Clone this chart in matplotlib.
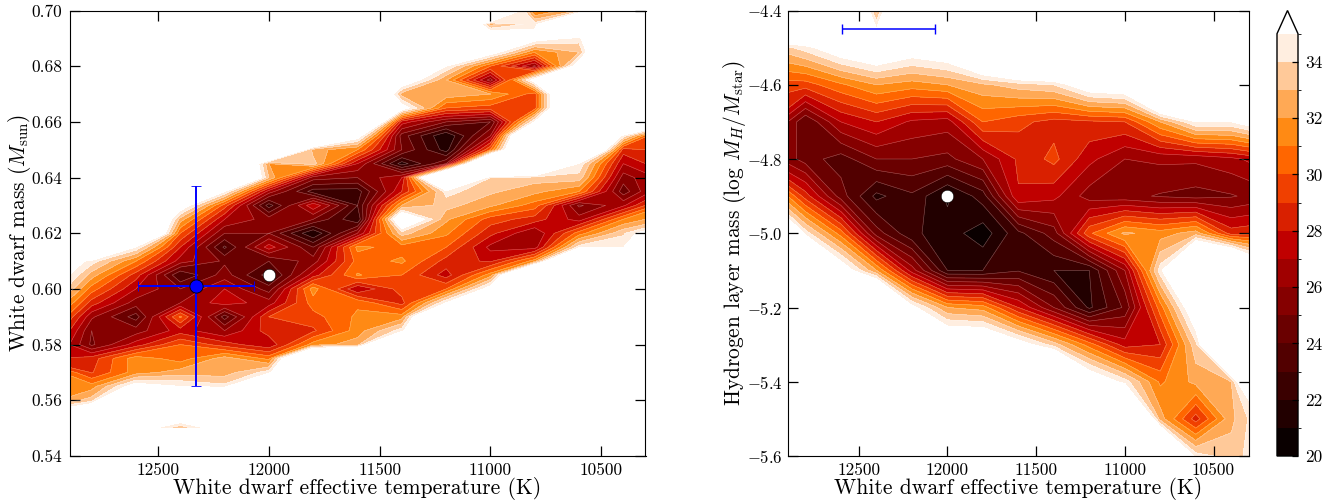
import numpy as np
import matplotlib
matplotlib.use('Agg')
import matplotlib.pyplot as plt
from matplotlib.colors import ListedColormap, BoundaryNorm

plt.rcParams['font.family'] = ['cmr10', 'DejaVu Serif']
plt.rcParams['mathtext.fontset'] = 'cm'
plt.rcParams['axes.unicode_minus'] = False
plt.rcParams['axes.formatter.use_mathtext'] = True

# chi2 values above the last level show as white
W = 45.0

temps = [13000, 12800, 12600, 12400, 12200, 12000, 11800, 11600, 11400,
         11200, 11000, 10800, 10600, 10400, 10200]

# mass grid: for each temperature, (first mass, values going up in mass)
mass_rows = np.arange(0.54, 0.7001, 0.005)
mass_cols = [
    [(0.555, [36, 31.5, 31.5, 32, 28, 29.2, 31, 32.8, 34.5, 36.5, 37.5, 37.5])],
    [(0.555, [40, 33.5, 31.5, 28.9, 28.5, 24.8, 25, 26.2, 28.5, 30.5, 32.5, 34.5])],
    [(0.545, [100, 36.5]),
     (0.565, [36, 31.5, 31.6, 27.5, 25.5, 23.5, 25.5, 27, 28.5, 31, 34.8])],
    [(0.545, [100, 33, 38]),
     (0.565, [35, 32.5, 30.5, 30, 27.5, 30.2, 26, 25, 23, 26.5, 28, 30, 32.5, 36.5])],
    [(0.545, [100, 36.5]),
     (0.565, [34.3, 32.5, 32.5, 28.5, 26, 23.5, 27.5, 27, 25.5, 24.8, 22.8, 25, 27, 29.5, 35])],
    [(0.57, [34.5, 30.7, 27.2, 28.5, 29, 26.5, 24.5, 22.5, 24, 27.5, 25, 25.5, 22.5, 26.5, 33, 32])],
    [(0.58, [31.5, 28.8, 29.6, 30.5, 31.5, 27.5, 25.5, 24, 21, 25, 27.8, 22.5, 25.5, 33.5, 32.5])],
    [(0.58, [32.5, 31.5, 31.2, 30.8, 27, 31.1, 30.4, 31.3, 26, 22, 23, 22.5, 25, 27, 31, 36])],
    [(0.585, [34.5, 31.5, 28.6, 29.5, 30, 31.2, 30.5, 33.5, 38, 32, 28, 27, 21.5, 25, 24.5, 27.5, 36, 32.5, 37])],
    [(0.595, [35, 30, 27.5, 28.6, 30, 31.2, 32.2, 33.4, 34.4, 45, 25, 21.5, 21, 25, 30, 32.7, 32, 35])],
    [(0.60, [36, 31.5, 27.8, 26.7, 28.3, 29.5, 32.2, 33.2, 34, 45, 30, 26, 24, 29.5, 32, 25.5, 30, 36, 38, 32.5])],
    [(0.605, [45, 31.5, 26.5, 26, 28.5, 30.5, 32.3, 33.5, 45, 45, 45, 35, 29.5, 29.5, 36, 25.8, 31, 36, 34.5, 30.5])],
    [(0.61, [45, 34.5, 30.5, 26.5, 24.8, 31, 33.6, 34.8]), (0.68, [36.5, 33, 34.5, 45, 33])],
    [(0.615, [34.9, 33.8, 31, 26.8, 24.4, 25.5, 27, 28.5, 34.5]), (0.70, [34.5])],
    [(0.62, [38, 33, 31.2, 28.5, 27.5, 29, 29.5, 26.5, 37])],
]

# hydrogen grid: one list per temperature, log mass from -5.6 up to -4.4
hydrogen_rows = [-5.6, -5.5, -5.4, -5.3, -5.2, -5.1, -5.0, -4.9, -4.8, -4.7, -4.6, -4.5, -4.4]
hydrogen_cols = [
    [W, W, W, W, W, W, W, 33.5, 26.5, 28, 29.5, 33.1, W],
    [W, W, W, W, W, W, 34.5, 28.5, 24.5, 24, 29.5, 34.5, W],
    [W, W, W, W, W, 36.5, 30.5, 24.5, 23.5, 27, 30.8, 36.5, W],
    [W, W, W, W, W, 32, 24.5, 21.7, 25, 28, 32, 37.7, 32.5],
    [W, W, W, W, 35.5, 26.5, 22.2, 22.8, 25, 26.8, 31.5, 36.3, W],
    [W, W, W, 38, 32, 22, 21.5, 20.8, 24.7, 26.5, 32, 37, W],
    [W, W, W, 38, 31.5, 22, 20.4, 22.5, 26, 30, 32.8, 41, W],
    [W, W, W, 36, 28, 22.9, 22.7, 27.9, 28.2, 29.3, 33.5, W, W],
    [W, W, W, 33.5, 25, 22, 24.5, 27.3, 29.3, 28.6, 34, W, W],
    [W, W, 37, 30.5, 21.8, 22, 29.8, 25.5, 27.3, 28.8, 36.5, W, W],
    [W, W, 34.5, 27.5, 24.2, 26, 32.2, 25.3, 26, 29, 37, W, W],
    [W, 32.5, 30.8, 28, 30.5, 34.5, 31.5, 24.9, 26.2, 32, W, W, W],
    [34.5, 28.5, 32.3, 33.7, 37, W, 32.5, 24.6, 26.2, 35, W, W, W],
    [33.5, 32.7, 33, W, W, W, 28.5, 24.9, 26.7, 35, W, W, W],
    [35, 35.5, W, W, W, 37, 28.9, 25.5, 27.7, 37, W, W, W],
]

levels = list(range(20, 36))
band_colors = ['#0a0000', '#220000', '#3a0000', '#520000', '#6a0000', '#850000',
               '#a00000', '#c00000', '#d92000', '#f04000', '#ff6600', '#ff8a14',
               '#ffa955', '#ffc999', '#ffeee0']

temp_ticks = [12500, 12000, 11500, 11000, 10500]
mass_ticks = [0.54, 0.56, 0.58, 0.60, 0.62, 0.64, 0.66, 0.68, 0.70]
mass_labels = ['0.54', '0.56', '0.58', '0.60', '0.62', '0.64', '0.66', '0.68', '0.70']
hydrogen_ticks = [-5.6, -5.4, -5.2, -5.0, -4.8, -4.6, -4.4]
hydrogen_labels = ['$-5.6$', '$-5.4$', '$-5.2$', '$-5.0$', '$-4.8$', '$-4.6$', '$-4.4$']
cbar_ticks = [20, 22, 24, 26, 28, 30, 32, 34]

# best fit and the literature point with its errors
fit_temp, fit_mass, fit_h = 12000, 0.605, -4.9
lit_temp, lit_temp_err = 12330, 262
lit_mass, lit_mass_err = 0.601, 0.036
lit_h_y = -4.451


def fill_column(segments, rows):
    col = np.full(len(rows), W)
    step = rows[1] - rows[0]
    for start, vals in segments:
        i = int(round((start - rows[0]) / step))
        col[i:i + len(vals)] = vals
    return col


mass_z = np.array([fill_column(s, mass_rows) for s in mass_cols]).T
hydrogen_z = np.array(hydrogen_cols).T

cmap = ListedColormap(band_colors)
cmap.set_over('white')
norm = BoundaryNorm(levels, cmap.N)

W_PX, H_PX = 1333, 501
fig = plt.figure(figsize=(W_PX / 100, H_PX / 100), dpi=100)


def px_axes(x0, x1, top, bottom):
    return fig.add_axes([x0 / W_PX, 1 - bottom / H_PX, (x1 - x0) / W_PX, (bottom - top) / H_PX])


ax1 = px_axes(69.5, 645.5, 10.5, 456)
ax2 = px_axes(787.7, 1249, 10.5, 456)
cax = px_axes(1277, 1298, 10.5, 456)

cf = ax1.contourf(temps, mass_rows, mass_z, levels=levels, cmap=cmap, norm=norm, extend='max')
ax1.contour(temps, mass_rows, mass_z, levels=levels[:-1], colors='w', linewidths=0.4, alpha=0.35)
ax2.contourf(temps, hydrogen_rows, hydrogen_z, levels=levels, cmap=cmap, norm=norm, extend='max')
ax2.contour(temps, hydrogen_rows, hydrogen_z, levels=levels[:-1], colors='w', linewidths=0.4, alpha=0.35)

ax1.errorbar(lit_temp, lit_mass, xerr=lit_temp_err, yerr=lit_mass_err, color='#0000ff', lw=1.4,
             capsize=3.5, marker='o', ms=9.5, mfc='#0000ff', mec='k', mew=0.6, zorder=5)
ax1.plot(fit_temp, fit_mass, 'o', color='w', ms=9, mec='k', mew=0.4, zorder=5)
ax2.errorbar(lit_temp, lit_h_y, xerr=lit_temp_err, color='#0000ff', lw=1.1, capsize=3.5, zorder=5)
ax2.plot(fit_temp, fit_h, 'o', color='w', ms=9, mec='k', mew=0.4, zorder=5)

for ax in (ax1, ax2):
    ax.set_xlim(12900, 10300)
    ax.set_xticks(temp_ticks)
    ax.set_xticklabels([str(t) for t in temp_ticks])
    ax.tick_params(direction='in', top=True, right=True, length=7, width=0.9, labelsize=12.5, pad=5)
    ax.set_xlabel('White dwarf effective temperature (K)', fontsize=15.6, labelpad=-1)

ax1.set_ylim(0.54, 0.70)
ax1.set_yticks(mass_ticks)
ax1.set_yticklabels(mass_labels)
ax1.set_ylabel(r'White dwarf mass ($M_{\rm sun}$)', fontsize=15.4, labelpad=-1)

ax2.set_ylim(-5.6, -4.4)
ax2.set_yticks(hydrogen_ticks)
ax2.set_yticklabels(hydrogen_labels)
ax2.tick_params(axis='y', labelsize=12, pad=3.5)
ax2.set_ylabel(r'Hydrogen layer mass (log $M_H/M_{\rm star}$)', fontsize=15.4, labelpad=-1)

cb = fig.colorbar(cf, cax=cax, extend='max', extendfrac=0.055, drawedges=False)
cb.set_ticks(cbar_ticks)
cb.set_ticklabels([str(t) for t in cbar_ticks])
cb.ax.tick_params(direction='in', length=4, width=0.9, labelsize=12.5, pad=5)
cb.outline.set_linewidth(1.0)

fig.savefig('out.png', dpi=100)
